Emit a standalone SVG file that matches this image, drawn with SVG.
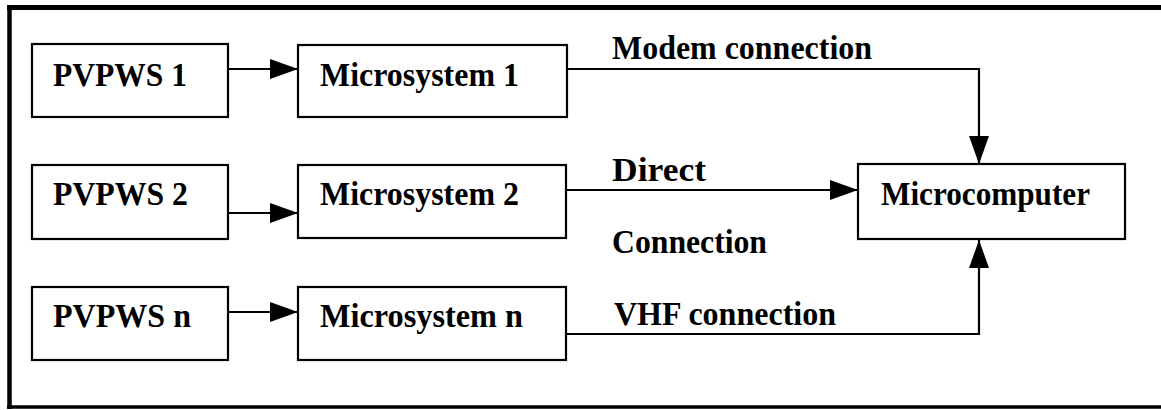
<svg xmlns="http://www.w3.org/2000/svg" width="1161" height="410" viewBox="0 0 1161 410">
  <style>
    .box { fill: #fff; stroke: #000; stroke-width: 2.2; }
    .wire { fill: none; stroke: #000; stroke-width: 2.2; }
    .lbl { font-family: 'Liberation Serif', 'Times New Roman', serif; font-weight: bold; font-size: 33px; fill: #000; }
  </style>
  <defs>
    <marker id="head" viewBox="0 0 28 20" refX="28" refY="10" markerWidth="28" markerHeight="20" markerUnits="userSpaceOnUse" orient="auto">
      <path d="M0,0 L28,10 L0,20 Z" fill="#000"/>
    </marker>
  </defs>

  <rect width="1161" height="410" fill="#fff"/>

  <!-- frame: open on the right -->
  <g id="frame" fill="none" stroke="#000">
    <line x1="7" y1="7.5" x2="1161" y2="7.5" stroke-width="5"/>
    <line x1="9.5" y1="5" x2="9.5" y2="409" stroke-width="4.5"/>
    <line x1="7" y1="407" x2="1161" y2="407" stroke-width="3.5"/>
  </g>

  <g id="pvpws1">
    <rect class="box" x="32" y="44" width="196" height="73"/>
    <text class="lbl" x="53" y="86" textLength="134" lengthAdjust="spacingAndGlyphs">PVPWS 1</text>
  </g>
  <g id="pvpws2">
    <rect class="box" x="32" y="165" width="196" height="74"/>
    <text class="lbl" x="53" y="205" textLength="135" lengthAdjust="spacingAndGlyphs">PVPWS 2</text>
  </g>
  <g id="pvpwsn">
    <rect class="box" x="32" y="287" width="196" height="73"/>
    <text class="lbl" x="53" y="327" textLength="138" lengthAdjust="spacingAndGlyphs">PVPWS n</text>
  </g>

  <g id="micro1">
    <rect class="box" x="298" y="45" width="269" height="72"/>
    <text class="lbl" x="320" y="86" textLength="199" lengthAdjust="spacingAndGlyphs">Microsystem 1</text>
  </g>
  <g id="micro2">
    <rect class="box" x="298" y="165" width="268" height="73"/>
    <text class="lbl" x="320" y="205" textLength="199" lengthAdjust="spacingAndGlyphs">Microsystem 2</text>
  </g>
  <g id="micron">
    <rect class="box" x="298" y="287" width="268" height="73"/>
    <text class="lbl" x="320" y="327" textLength="203" lengthAdjust="spacingAndGlyphs">Microsystem n</text>
  </g>

  <g id="microcomputer">
    <rect class="box" x="858" y="164" width="267" height="75"/>
    <text class="lbl" x="881" y="205" textLength="209" lengthAdjust="spacingAndGlyphs">Microcomputer</text>
  </g>

  <g id="connectors">
    <line class="wire" x1="228" y1="69" x2="298" y2="69" marker-end="url(#head)"/>
    <line class="wire" x1="228" y1="213" x2="298" y2="213" marker-end="url(#head)"/>
    <line class="wire" x1="228" y1="312" x2="298" y2="312" marker-end="url(#head)"/>
    <polyline class="wire" points="567,69 979,69 979,164" marker-end="url(#head)"/>
    <line class="wire" x1="566" y1="190" x2="858" y2="190" marker-end="url(#head)"/>
    <polyline class="wire" points="566,334 979,334 979,240" marker-end="url(#head)"/>
  </g>

  <g id="link-labels">
    <text class="lbl" x="612" y="59" textLength="260" lengthAdjust="spacingAndGlyphs">Modem connection</text>
    <text class="lbl" x="612" y="181" textLength="94" lengthAdjust="spacingAndGlyphs">Direct</text>
    <text class="lbl" x="612" y="253" textLength="155" lengthAdjust="spacingAndGlyphs">Connection</text>
    <text class="lbl" x="614" y="325" textLength="222" lengthAdjust="spacingAndGlyphs">VHF connection</text>
  </g>
</svg>
